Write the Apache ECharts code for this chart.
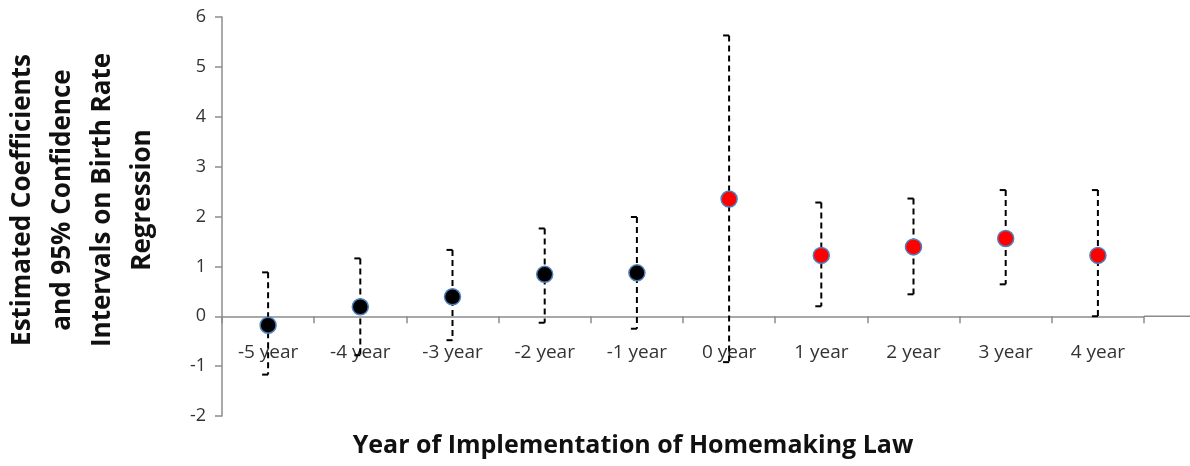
<!DOCTYPE html>
<html>
<head>
<meta charset="utf-8">
<script src="https://cdn.jsdelivr.net/npm/echarts@6/dist/echarts.min.js"></script>
<style>
  html, body { margin: 0; padding: 0; background: #fff; }
  #chart { width: 1190px; height: 466px; }
</style>
</head>
<body>
<div id="chart"></div>
<script>
// data
const categories = ['-5 year', '-4 year', '-3 year', '-2 year', '-1 year', '0 year', '1 year', '2 year', '3 year', '4 year'];
const coefficients = [-0.18, 0.19, 0.39, 0.84, 0.87, 2.35, 1.22, 1.39, 1.56, 1.22];
const lowerCI = [-1.17, -0.78, -0.48, -0.13, -0.25, -0.92, 0.20, 0.44, 0.64, 0.00];
const upperCI = [0.88, 1.16, 1.33, 1.76, 1.99, 5.63, 2.28, 2.36, 2.53, 2.53];
const yTicks = [-2, -1, 0, 1, 2, 3, 4, 5, 6];

const font = '"Open Sans", "DejaVu Sans", sans-serif';
const chart = echarts.init(document.getElementById('chart'));

const gridTop = 17, gridBottom = 50;
const yMin = yTicks[0], yMax = yTicks[yTicks.length - 1];
// category axis sits at y = 0 (labels too), like Excel
const plotH = 466 - gridTop - gridBottom;
const zeroOffset = -(0 - yMin) / (yMax - yMin) * plotH;

const barData = categories.map(function (c, i) { return [i, lowerCI[i], upperCI[i]]; });

const option = {
    animation: false,
    grid: { left: 222, right: 46, top: gridTop, bottom: gridBottom, containLabel: false },
    xAxis: {
        type: 'category',
        data: categories,
        offset: zeroOffset,
        axisLine: { onZero: false, lineStyle: { color: '#8c8c8c', width: 1.5 } },
        axisTick: { show: true, length: 7, lineStyle: { color: '#8c8c8c', width: 1.5 } },
        axisLabel: { color: '#333', fontSize: 19, fontFamily: font, margin: 27 },
        splitLine: { show: false }
    },
    yAxis: {
        type: 'value',
        min: yMin,
        max: yMax,
        interval: 1,
        axisLine: { show: true, lineStyle: { color: '#8c8c8c', width: 1.5 } },
        axisTick: { show: true, length: 7, lineStyle: { color: '#8c8c8c', width: 1.5 } },
        axisLabel: { color: '#333', fontSize: 18, fontFamily: font, margin: 16 },
        splitLine: { show: false }
    },
    graphic: [
        {
            id: 'ytitle',
            type: 'text',
            x: 83, y: 200,
            rotation: Math.PI / 2,
            style: {
                text: 'Estimated Coefficients\nand 95% Confidence\nIntervals on Birth Rate\nRegression',
                font: 'bold 26px ' + font,
                fill: '#111',
                align: 'center',
                verticalAlign: 'middle',
                lineHeight: 40
            }
        },
        {
            id: 'xtitle',
            type: 'text',
            x: 633, y: 446,
            style: {
                text: 'Year of Implementation of Homemaking Law',
                font: 'bold 25px ' + font,
                fill: '#111',
                align: 'center',
                verticalAlign: 'middle'
            }
        }
    ],
    series: [
        {
            // dashed confidence interval bars
            type: 'custom',
            data: barData,
            z: 2,
            renderItem: function (params, api) {
                const lo = api.coord([api.value(0), api.value(1)]);
                const hi = api.coord([api.value(0), api.value(2)]);
                const cap = 6;
                const style = { stroke: '#000', lineWidth: 2, lineDash: [6, 4], fill: null };
                return {
                    type: 'group',
                    children: [
                        { type: 'line', shape: { x1: hi[0], y1: hi[1], x2: lo[0], y2: lo[1] }, style: style },
                        { type: 'line', shape: { x1: hi[0] - cap, y1: hi[1], x2: hi[0], y2: hi[1] }, style: { stroke: '#000', lineWidth: 2 } },
                        { type: 'line', shape: { x1: lo[0] - cap, y1: lo[1], x2: lo[0], y2: lo[1] }, style: { stroke: '#000', lineWidth: 2 } }
                    ]
                };
            }
        },
        {
            type: 'scatter',
            data: coefficients,
            z: 5,
            symbol: 'circle',
            symbolSize: 16,
            itemStyle: {
                opacity: 1,
                color: function (p) { return p.dataIndex < 5 ? '#000000' : '#ff0000'; },
                borderColor: '#4f81bd',
                borderWidth: 1.5
            }
        }
    ]
};
chart.setOption(option);

// Excel's horizontal axis runs on to the right edge of the picture
const zeroY = chart.convertToPixel({ yAxisIndex: 0 }, 0);
const endX = chart.convertToPixel({ xAxisIndex: 0 }, categories.length - 1) + 46;
chart.setOption({
    graphic: [{
        id: 'axisExt',
        type: 'line',
        shape: { x1: endX, y1: zeroY, x2: 1190, y2: zeroY },
        style: { stroke: '#8c8c8c', lineWidth: 1.5 }
    }]
});
</script>
</body>
</html>
